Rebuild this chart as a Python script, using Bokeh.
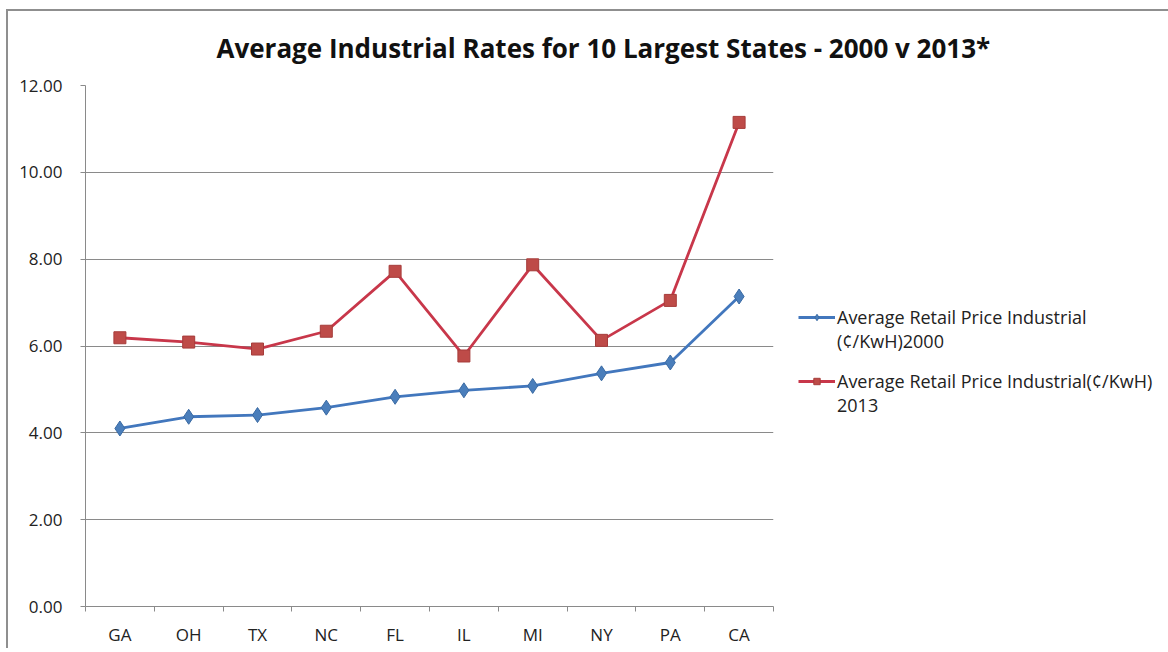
from bokeh.plotting import figure
from bokeh.models import FixedTicker, Legend, LegendItem, Range1d, ColumnDataSource, NumeralTickFormatter
from bokeh.embed import file_html
from bokeh.resources import INLINE

states = ["GA", "OH", "TX", "NC", "FL", "IL", "MI", "NY", "PA", "CA"]
price_2000 = [4.10, 4.37, 4.41, 4.58, 4.83, 4.98, 5.08, 5.37, 5.62, 7.14]
price_2013 = [6.19, 6.09, 5.93, 6.34, 7.72, 5.77, 7.87, 6.13, 7.05, 11.15]
y_ticks = [0, 2, 4, 6, 8, 10, 12]
title_text = "Average Industrial Rates for 10 Largest States - 2000 v 2013*"
label_2000 = ["Average Retail Price Industrial", "(¢/KwH)2000"]
label_2013 = ["Average Retail Price Industrial(¢/KwH)", "2013"]

FONT = "Open Sans"

xs = [i + 0.5 for i in range(len(states))]
src = ColumnDataSource(dict(x=xs, a=price_2000, b=price_2013))

p = figure(frame_width=688, frame_height=521, output_backend="svg", toolbar_location=None,
           x_range=Range1d(0, len(states)), y_range=Range1d(0, 12),
           min_border_left=85, min_border_right=0, min_border_top=85, min_border_bottom=38,
           title=title_text)
p.title.text_font = FONT
p.title.text_font_style = "bold"
p.title.text_font_size = "26px"
p.title.align = "left"
p.title.text_color = "#111111"
p.title.offset = 131
p.title.standoff = 39

p.outline_line_color = None
p.background_fill_color = "white"
p.border_fill_color = None
# chart-area border (top and left edges visible in the reference)
p.styles = {
    "background": ("linear-gradient(#8f8f8f, #8f8f8f) 6px 9px / 2px 100% no-repeat, "
                   "linear-gradient(#8f8f8f, #8f8f8f) 6px 9px / 100% 2px no-repeat, white"),
}

p.xgrid.grid_line_color = None
p.ygrid.grid_line_color = "#8a8a8a"
p.ygrid.grid_line_width = 1
p.ygrid.ticker = FixedTicker(ticks=y_ticks)

p.yaxis.ticker = FixedTicker(ticks=y_ticks)
p.yaxis.formatter = NumeralTickFormatter(format="0.00")
p.yaxis.axis_line_color = "#8a8a8a"
p.yaxis.major_tick_line_color = "#8a8a8a"
p.yaxis.major_tick_out = 5
p.yaxis.major_tick_in = 0
p.yaxis.minor_tick_line_color = None
p.yaxis.major_label_text_font = FONT
p.yaxis.major_label_text_font_size = "17px"
p.yaxis.major_label_text_color = "#222222"
p.yaxis.major_label_standoff = 18

p.xaxis.ticker = FixedTicker(ticks=xs, minor_ticks=list(range(len(states) + 1)))
p.xaxis.major_label_overrides = {x: s for x, s in zip(xs, states)}
p.xaxis.axis_line_color = "#8a8a8a"
p.xaxis.major_tick_line_color = None
p.xaxis.minor_tick_line_color = "#8a8a8a"
p.xaxis.minor_tick_out = 5
p.xaxis.minor_tick_in = 0
p.xaxis.major_label_text_font = FONT
p.xaxis.major_label_text_font_size = "17px"
p.xaxis.major_label_text_color = "#222222"
p.xaxis.major_label_standoff = 10

blue_line = "#4277bd"
blue_mark = "#4a7ebb"
red_line = "#c8374a"
red_mark = "#be4b48"

l1 = p.line("x", "a", source=src, line_color=blue_line, line_width=2.8)
m1 = p.scatter("x", "a", source=src, marker="diamond", size=15,
               fill_color=blue_mark, line_color="#3a6aa3", line_width=1)
l2 = p.line("x", "b", source=src, line_color=red_line, line_width=2.8)
m2 = p.scatter("x", "b", source=src, marker="square", size=12,
               fill_color=red_mark, line_color="#a63c3a", line_width=1)

# invisible renderer used for continuation lines of wrapped legend labels
ghost = p.scatter(x=[], y=[], fill_alpha=0, line_alpha=0)

legend = Legend(items=[LegendItem(label=label_2000[0], renderers=[l1, m1]),
                       LegendItem(label=label_2000[1], renderers=[ghost]),
                       LegendItem(label="", renderers=[ghost]),
                       LegendItem(label=label_2013[0], renderers=[l2, m2]),
                       LegendItem(label=label_2013[1], renderers=[ghost])],
                location=(25, 189), padding=0, margin=0, spacing=-1,
                glyph_width=37, glyph_height=16, label_height=0, label_standoff=2,
                label_text_font=FONT, label_text_font_size="18px",
                label_text_color="#222222", border_line_color=None,
                background_fill_alpha=0)
p.add_layout(legend, "right")

open("out.html", "w").write(file_html(p, INLINE))
